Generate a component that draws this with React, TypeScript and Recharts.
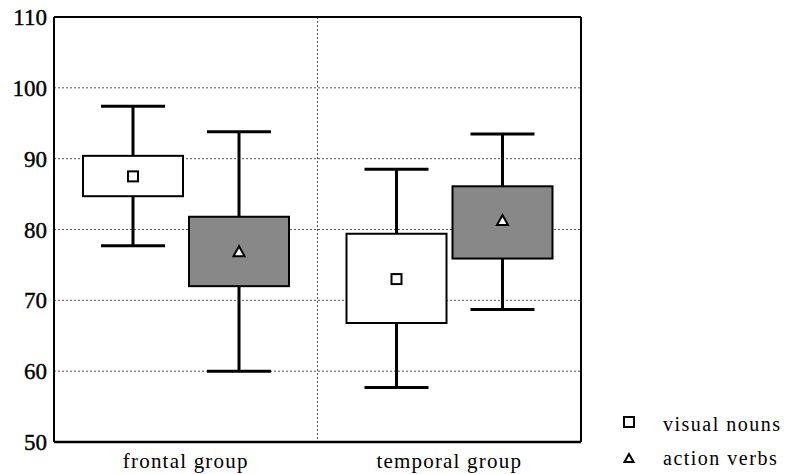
import React from 'react';
import {
  ComposedChart,
  Bar,
  XAxis,
  YAxis,
  CartesianGrid,
} from 'recharts';

const categories = ['frontal group', 'temporal group'];

const nounsMin = [77.7, 57.7];
const nounsQ1 = [84.7, 66.8];
const nounsMean = [87.5, 73.0];
const nounsQ3 = [90.4, 79.4];
const nounsMax = [97.4, 88.5];

const verbsMin = [60.0, 68.7];
const verbsQ1 = [72.0, 75.9];
const verbsMean = [76.8, 81.2];
const verbsQ3 = [81.8, 86.1];
const verbsMax = [93.8, 93.5];

const yTicks = [50, 60, 70, 80, 90, 100, 110];
const legendLabels = ['visual nouns', 'action verbs'];

const data = categories.map((c, i) => ({
  category: c,
  nouns: [nounsMin[i], nounsMax[i]],
  verbs: [verbsMin[i], verbsMax[i]],
  nounsStats: { min: nounsMin[i], q1: nounsQ1[i], mean: nounsMean[i], q3: nounsQ3[i], max: nounsMax[i] },
  verbsStats: { min: verbsMin[i], q1: verbsQ1[i], mean: verbsMean[i], q3: verbsQ3[i], max: verbsMax[i] },
}));

const FONT = '"Liberation Serif", "DejaVu Serif", serif';

const makeBoxShape = (kind: 'nouns' | 'verbs') => (props: any) => {
  const { x, y, width, height, payload } = props;
  const s = payload[kind + 'Stats'];
  const py = (v: number) => y + ((s.max - v) / (s.max - s.min)) * height;
  const cx = x + width / 2;
  const capHalf = 32;
  const yMax = py(s.max);
  const yMin = py(s.min);
  const yQ3 = py(s.q3);
  const yQ1 = py(s.q1);
  const yMean = py(s.mean);
  const fill = kind === 'nouns' ? '#ffffff' : '#888888';
  return (
    <g>
      <line x1={cx} x2={cx} y1={yMax} y2={yMin} stroke="#000" strokeWidth={3} />
      <line x1={cx - capHalf} x2={cx + capHalf} y1={yMax} y2={yMax} stroke="#000" strokeWidth={3} />
      <line x1={cx - capHalf} x2={cx + capHalf} y1={yMin} y2={yMin} stroke="#000" strokeWidth={3} />
      <rect x={x} y={yQ3} width={width} height={yQ1 - yQ3} fill={fill} stroke="#000" strokeWidth={2} />
      {kind === 'nouns' ? (
        <rect x={cx - 5} y={yMean - 5} width={10} height={10} fill="#fff" stroke="#000" strokeWidth={2} />
      ) : (
        <polygon
          points={`${cx},${yMean - 6} ${cx - 5.5},${yMean + 4} ${cx + 5.5},${yMean + 4}`}
          fill="#fff"
          stroke="#000"
          strokeWidth={2}
        />
      )}
    </g>
  );
};

const nounsShape = makeBoxShape('nouns');
const verbsShape = makeBoxShape('verbs');

// vertical divider at the boundary between the two category bands
const dividerGenerator = (props: any) => {
  const xa = props && props.xAxis;
  if (xa && typeof xa.scale === 'function') {
    const v = xa.scale(categories[1]);
    if (typeof v === 'number' && !isNaN(v)) return [v];
  }
  const off = props.offset;
  return [off.left + off.width / 2];
};

export default function App() {
  return (
    <div style={{ position: 'absolute', left: 0, top: 0, width: 786, height: 474, background: '#fff' }}>
      <ComposedChart
        width={786}
        height={474}
        data={data}
        margin={{ top: 16, right: 204, bottom: 0, left: 0 }}
        barSize={100}
        barGap={6}
      >
        <CartesianGrid vertical={false} stroke="#555" strokeDasharray="2 2" strokeWidth={1} />
        <CartesianGrid
          horizontal={false}
          verticalCoordinatesGenerator={dividerGenerator}
          stroke="#555"
          strokeDasharray="2 2"
          strokeWidth={1}
        />
        <XAxis
          dataKey="category"
          height={32}
          tickLine={false}
          tickSize={0}
          tickMargin={11}
          axisLine={{ stroke: '#000', strokeWidth: 2.5 }}
          tick={{ fill: '#000', fontSize: 21, fontFamily: FONT, letterSpacing: 1.2 }}
        />
        <XAxis
          xAxisId="top"
          orientation="top"
          dataKey="category"
          height={1}
          tick={false}
          tickLine={false}
          axisLine={{ stroke: '#000', strokeWidth: 2 }}
        />
        <YAxis
          type="number"
          domain={[50, 110]}
          ticks={yTicks}
          width={54}
          tickLine={false}
          tickSize={0}
          tickMargin={7}
          axisLine={{ stroke: '#000', strokeWidth: 2 }}
          tick={{ fill: '#000', fontSize: 23, fontFamily: FONT, stroke: '#000', strokeWidth: 0.4 }}
          interval={0}
        />
        <YAxis
          yAxisId="right"
          orientation="right"
          type="number"
          domain={[50, 110]}
          width={1}
          tick={false}
          tickLine={false}
          axisLine={{ stroke: '#000', strokeWidth: 2 }}
        />
        <Bar dataKey="nouns" shape={nounsShape} isAnimationActive={false} />
        <Bar dataKey="verbs" shape={verbsShape} isAnimationActive={false} />
      </ComposedChart>
      <div style={{ position: 'absolute', left: 617, top: 408, fontFamily: FONT, fontSize: 20, color: '#000' }}>
        <svg width={24} height={70} style={{ position: 'absolute', left: 0, top: 0 }}>
          <rect x={7} y={9} width={10} height={10} fill="#fff" stroke="#000" strokeWidth={2} />
          <polygon points="12,46 7.5,54 16.5,54" fill="#fff" stroke="#000" strokeWidth={2} />
        </svg>
        <div style={{ position: 'absolute', left: 46, top: 6, whiteSpace: 'nowrap', lineHeight: '20px', letterSpacing: 1.5 }}>
          {legendLabels[0]}
        </div>
        <div style={{ position: 'absolute', left: 46, top: 40, whiteSpace: 'nowrap', lineHeight: '20px', letterSpacing: 1.5 }}>
          {legendLabels[1]}
        </div>
      </div>
    </div>
  );
}
